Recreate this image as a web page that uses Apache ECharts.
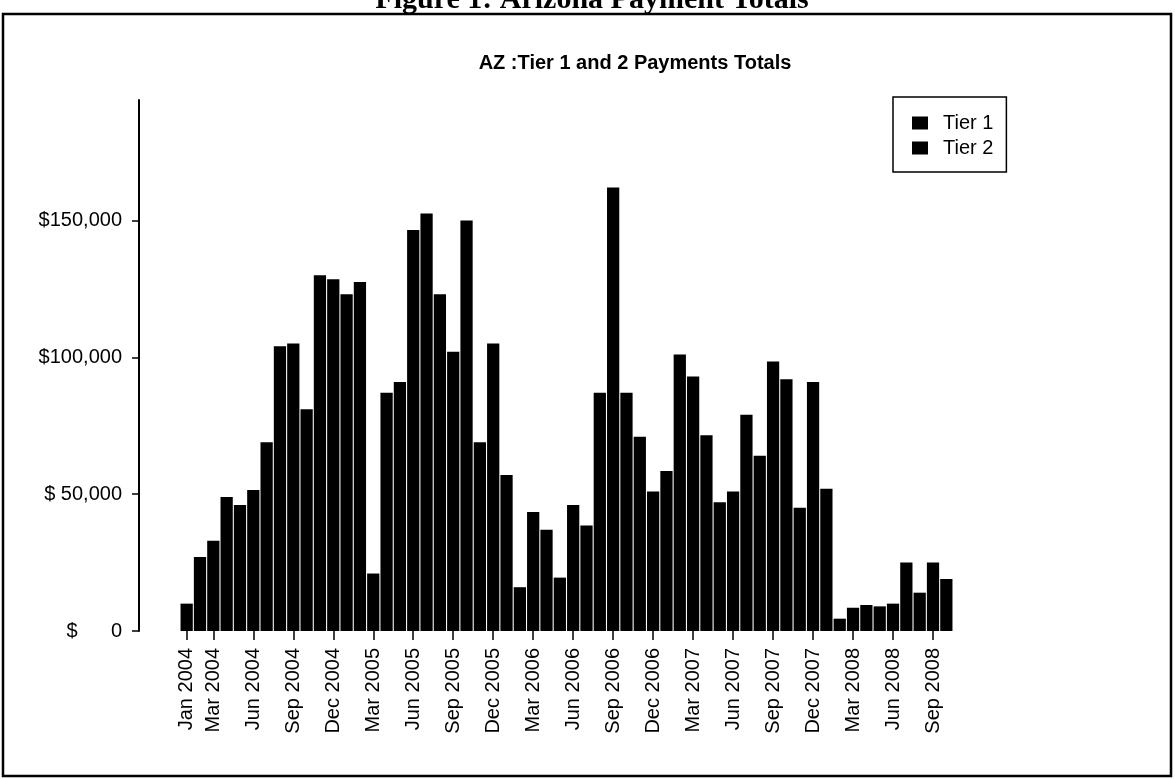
<!DOCTYPE html>
<html>
<head>
<meta charset="utf-8">
<title>AZ Tier 1 and 2 Payments Totals</title>
<script src="https://cdn.jsdelivr.net/npm/echarts@6/dist/echarts.min.js"></script>
<style>
  html, body { margin: 0; padding: 0; background: #fff; }
  #chart { width: 1175px; height: 779px; }
</style>
</head>
<body>
<div id="chart"></div>
<script>
// month categories, Jan 2004 .. Oct 2008
var months = [
  'Jan 2004', 'Feb 2004', 'Mar 2004', 'Apr 2004', 'May 2004', 'Jun 2004', 'Jul 2004', 'Aug 2004', 'Sep 2004', 'Oct 2004', 'Nov 2004', 'Dec 2004',
  'Jan 2005', 'Feb 2005', 'Mar 2005', 'Apr 2005', 'May 2005', 'Jun 2005', 'Jul 2005', 'Aug 2005', 'Sep 2005', 'Oct 2005', 'Nov 2005', 'Dec 2005',
  'Jan 2006', 'Feb 2006', 'Mar 2006', 'Apr 2006', 'May 2006', 'Jun 2006', 'Jul 2006', 'Aug 2006', 'Sep 2006', 'Oct 2006', 'Nov 2006', 'Dec 2006',
  'Jan 2007', 'Feb 2007', 'Mar 2007', 'Apr 2007', 'May 2007', 'Jun 2007', 'Jul 2007', 'Aug 2007', 'Sep 2007', 'Oct 2007', 'Nov 2007', 'Dec 2007',
  'Jan 2008', 'Feb 2008', 'Mar 2008', 'Apr 2008', 'May 2008', 'Jun 2008', 'Jul 2008', 'Aug 2008', 'Sep 2008', 'Oct 2008'
];

// payments (both tiers print black in the source, so the visible totals sit in Tier 1)
var tier1 = [
  10000, 27000, 33000, 49000, 46000, 51500, 69000, 104000, 105000, 81000, 130000, 128500,
  123000, 127500, 21000, 87000, 91000, 146500, 152500, 123000, 102000, 150000, 69000, 105000,
  57000, 16000, 43500, 37000, 19500, 46000, 38500, 87000, 162000, 87000, 71000, 51000,
  58500, 101000, 93000, 71500, 47000, 51000, 79000, 64000, 98500, 92000, 45000, 91000,
  52000, 4500, 8500, 9500, 9000, 10000, 25000, 14000, 25000, 19000
];
var tier2 = [];

// y axis ticks and their printed labels
var yTickValues = [0, 50000, 100000, 150000];
var yTickLabels = ['$      0', '$ 50,000', '$100,000', '$150,000'];

// x labels: first month, then every quarter from Mar 2004
function showMonth(idx) {
  return idx === 0 || (idx - 2) % 3 === 0;
}

var chart = echarts.init(document.getElementById('chart'));
var font = 'Liberation Sans, Arial, sans-serif';

var option = {
  backgroundColor: '#fff',
  animation: false,
  title: {
    text: 'AZ :Tier 1 and 2 Payments Totals',
    left: 630,
    top: 48,
    textAlign: 'center',
    textStyle: { fontFamily: font, fontSize: 20, fontWeight: 'bold', color: '#000' }
  },
  legend: {
    orient: 'vertical',
    left: 893,
    top: 97,
    padding: [16, 13, 14, 19],
    itemGap: 5,
    itemWidth: 16,
    itemHeight: 13,
    borderColor: '#000',
    borderWidth: 1.5,
    icon: 'rect',
    textStyle: { fontFamily: font, fontSize: 20, color: '#000', padding: [0, 0, 0, 10] },
    data: ['Tier 1', 'Tier 2']
  },
  grid: {
    left: 180,
    right: 222,
    top: 100,
    bottom: 148,
    containLabel: false
  },
  xAxis: {
    type: 'category',
    data: months,
    axisLine: { show: false },
    axisTick: {
      show: true,
      alignWithLabel: true,
      interval: showMonth,
      length: 9,
      lineStyle: { color: '#000', width: 1.5 }
    },
    axisLabel: {
      interval: showMonth,
      rotate: 90,
      margin: 17,
      fontFamily: font,
      fontSize: 20,
      color: '#000'
    },
    splitLine: { show: false }
  },
  yAxis: {
    type: 'value',
    min: 0,
    max: 194000,
    offset: 41,
    axisLine: { show: true, lineStyle: { color: '#000', width: 2 } },
    axisTick: {
      show: true,
      length: 7,
      customValues: yTickValues,
      lineStyle: { color: '#000', width: 1.5 }
    },
    axisLabel: {
      customValues: yTickValues,
      margin: 17,
      fontFamily: font,
      fontSize: 20,
      color: '#000',
      formatter: function (v) {
        var i = yTickValues.indexOf(v);
        return i >= 0 ? yTickLabels[i] : '';
      }
    },
    splitLine: { show: false }
  },
  series: [
    {
      name: 'Tier 1',
      type: 'bar',
      stack: 'pay',
      data: tier1,
      barCategoryGap: '8%',
      itemStyle: { color: '#000' }
    },
    {
      name: 'Tier 2',
      type: 'bar',
      stack: 'pay',
      data: tier2,
      itemStyle: { color: '#000' }
    }
  ],
  graphic: [
    {
      type: 'rect',
      shape: { x: 3, y: 14, width: 1168, height: 762 },
      style: { fill: 'none', stroke: '#000', lineWidth: 2.5 },
      silent: true
    },
    {
      type: 'text',
      x: 592,
      y: 15,
      style: {
        text: 'Figure 1: Arizona Payment Totals',
        font: 'bold 30px Liberation Serif, Times New Roman, serif',
        fill: '#000',
        textAlign: 'center',
        textVerticalAlign: 'bottom'
      },
      silent: true
    }
  ]
};

chart.setOption(option);
</script>
</body>
</html>
